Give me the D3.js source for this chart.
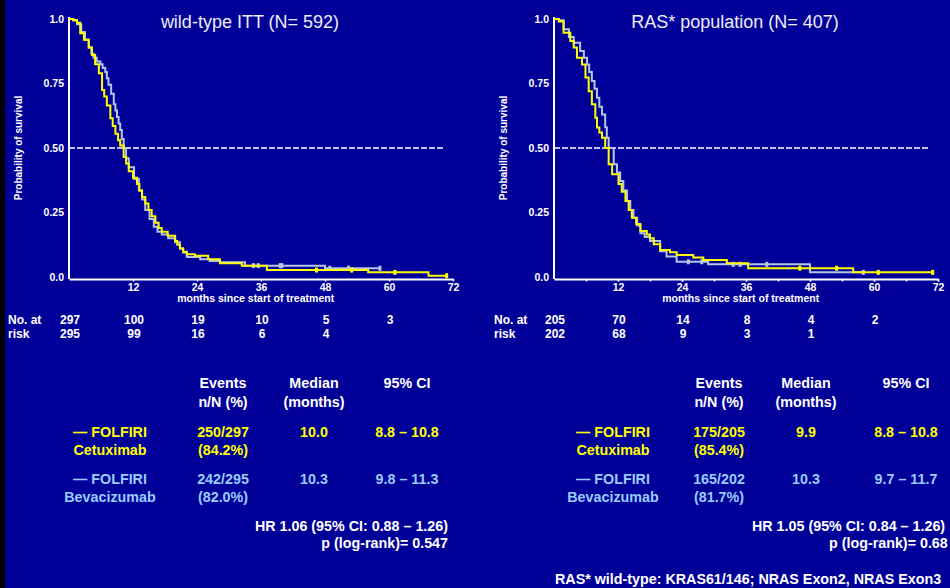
<!DOCTYPE html>
<html>
<head>
<meta charset="utf-8">
<script src="https://cdn.jsdelivr.net/npm/d3@7"></script>
<style>
body { margin: 0; background: #000099; }
svg { display: block; font-family: Arial, "Liberation Sans", sans-serif; }
</style>
</head>
<body>
<svg class="chart" width="950" height="588"></svg>
<script>
// Kaplan-Meier steps: [months, probability]
var wtCetux = [[0,1],[0.8,0.995],[1.5,0.985],[2.1,0.945],[2.8,0.92],[3.7,0.89],[4.3,0.86],[4.9,0.825],
  [5.6,0.79],[6.2,0.725],[6.6,0.70],[7.1,0.665],[7.75,0.615],[8.2,0.585],[8.7,0.555],[9.2,0.53],[9.6,0.51],
  [10.25,0.465],[10.7,0.44],[11.2,0.41],[12.0,0.385],[12.75,0.36],[13.2,0.335],[13.7,0.31],[14.3,0.285],
  [14.9,0.26],[15.5,0.235],[16.2,0.21],[16.8,0.19],[17.4,0.175],[18.5,0.16],[19.9,0.14],[20.3,0.125],
  [20.8,0.11],[21.4,0.098],[22.1,0.088],[23.6,0.082],[26.1,0.069],[28.3,0.053],[32.4,0.044],[37.1,0.027],
  [56.1,0.018],[67.4,0.005],[71.1,0.005]];
var wtBev = [[0,1],[0.8,0.995],[1.5,0.98],[2.3,0.95],[3.0,0.92],[3.7,0.89],[4.2,0.865],[4.6,0.85],[5.2,0.835],
  [5.9,0.825],[6.3,0.81],[6.8,0.795],[7.1,0.77],[7.4,0.745],[7.9,0.71],[8.4,0.67],[8.7,0.645],[9.0,0.62],
  [9.3,0.595],[9.6,0.57],[9.9,0.535],[10.25,0.50],[10.7,0.46],[11.2,0.425],[12.2,0.38],[13.1,0.335],
  [13.7,0.30],[14.3,0.26],[15.1,0.225],[15.9,0.195],[16.6,0.175],[17.4,0.165],[18.6,0.15],[19.9,0.135],
  [20.8,0.11],[21.4,0.095],[22.1,0.078],[24.6,0.069],[26.4,0.062],[28.3,0.057],[33.0,0.044],[48.0,0.034],
  [58.3,0.034]];
var rasCetux = [[0,1],[0.9,0.99],[1.8,0.947],[3.06,0.915],[3.7,0.89],[4.3,0.85],[5.25,0.824],[5.9,0.773],
  [6.5,0.72],[7.1,0.67],[7.75,0.617],[8.06,0.579],[8.5,0.56],[9.0,0.54],[9.6,0.50],[10.25,0.437],
  [10.9,0.398],[12.1,0.36],[12.7,0.33],[13.4,0.295],[14.0,0.26],[14.6,0.23],[15.4,0.205],[16.2,0.178],
  [17.4,0.165],[18.0,0.15],[18.7,0.127],[19.9,0.105],[21.75,0.096],[23.0,0.085],[26.1,0.076],[28.0,0.066],
  [32.4,0.053],[36.4,0.034],[56.1,0.018],[71.0,0.018]];
var rasBev = [[0,1],[0.9,0.995],[1.8,0.96],[2.8,0.93],[3.7,0.908],[4.9,0.876],[5.6,0.85],[6.2,0.824],
  [6.6,0.795],[7.1,0.76],[7.6,0.73],[8.06,0.695],[8.5,0.66],[9.0,0.63],[9.6,0.58],[9.9,0.54],[10.25,0.50],
  [11.2,0.437],[11.8,0.405],[12.4,0.372],[13.0,0.335],[13.7,0.295],[14.3,0.26],[14.9,0.23],[15.6,0.20],
  [16.2,0.17],[17.0,0.155],[18.0,0.14],[19.9,0.10],[21.1,0.079],[23.0,0.059],[28.9,0.049],[48.0,0.018],
  [58.0,0.018]];

// censor marks (months)
var wtCetuxCens = [46.4, 53.0, 61.1, 70.8];
var wtBevCens = [34.6, 35.5, 39.6, 39.9, 48.9, 52.4, 58.3];
var rasCetuxCens = [46.1, 53.0, 60.8, 71.0];
var rasBevCens = [25.2, 27.7, 33.6, 34.9, 39.9, 58.0];

var xTicks = [12, 24, 36, 48, 60, 72];
var yTicks = [0, 0.25, 0.5, 0.75, 1];
var yTickLabels = ["0.0", "0.25", "0.50", "0.75", "1.0"];

// numbers at risk
var riskTimes = [0, 12, 24, 36, 48, 60];
var wtRiskCetux = [297, 100, 19, 10, 5, 3];
var wtRiskBev = [295, 99, 16, 6, 4];
var rasRiskCetux = [205, 70, 14, 8, 4, 2];
var rasRiskBev = [202, 68, 9, 3, 1];

var titles = ["wild-type ITT (N= 592)", "RAS* population (N= 407)"];
var tableHead = [["Events", "n/N (%)"], ["Median", "(months)"], ["95% CI", ""]];
var cetuxArm = ["— FOLFIRI", "Cetuximab"];
var bevArm = ["— FOLFIRI", "Bevacizumab"];
var wtCetuxRow = ["250/297", "(84.2%)", "10.0", "8.8 – 10.8"];
var wtBevRow = ["242/295", "(82.0%)", "10.3", "9.8 – 11.3"];
var rasCetuxRow = ["175/205", "(85.4%)", "9.9", "8.8 – 10.8"];
var rasBevRow = ["165/202", "(81.7%)", "10.3", "9.7 – 11.7"];
var wtStats = ["HR 1.06 (95% CI: 0.88 – 1.26)", "p (log-rank)= 0.547"];
var rasStats = ["HR 1.05 (95% CI: 0.84 – 1.26)", "p (log-rank)= 0.68"];
var footnote = "RAS* wild-type: KRAS61/146; NRAS Exon2, NRAS Exon3";

var yellow = "#ffff00", grey = "#b4c6e6", lightBlue = "#99ccff";

var svg = d3.select("svg.chart");
svg.append("rect").attr("width", 950).attr("height", 588).attr("fill", "#000099");
svg.append("rect").attr("width", 5).attr("height", 588).attr("fill", "#000000");

var panels = [
  {x0: 69, title: titles[0], cetux: wtCetux, bev: wtBev, cetuxCens: wtCetuxCens, bevCens: wtBevCens,
   riskC: wtRiskCetux, riskB: wtRiskBev, rowC: wtCetuxRow, rowB: wtBevRow, stats: wtStats,
   minor: false, riskX: 8, cols: [110, 223, 314, 407], statX: 448, statAnchor: "end"},
  {x0: 554, title: titles[1], cetux: rasCetux, bev: rasBev, cetuxCens: rasCetuxCens, bevCens: rasBevCens,
   riskC: rasRiskCetux, riskB: rasRiskBev, rowC: rasCetuxRow, rowB: rasBevRow, stats: rasStats,
   minor: true, riskX: 494, cols: [613, 719, 806, 906], statX: [752, 829], statAnchor: "start"}
];

var axisY = 279;

function survAt(data, t) {
  var i = d3.bisector(function(d) { return d[0]; }).right(data, t) - 1;
  return data[Math.max(0, i)][1];
}

panels.forEach(function(p) {
  var x = d3.scaleLinear().domain([0, 72]).range([p.x0, p.x0 + 384]);
  var y = d3.scaleLinear().domain([0, 1]).range([277, 19]);
  var g = svg.append("g");

  // title
  g.append("text").attr("x", x(36) - 11).attr("y", 28).attr("text-anchor", "middle")
    .attr("fill", "#eeeef4").style("font-size", "18px").text(p.title);

  // x axis
  if (p.minor) {
    g.append("g").attr("transform", "translate(0," + axisY + ")")
      .call(d3.axisBottom(x).tickValues(d3.range(6, 73, 6)).tickSize(2.5).tickFormat(""))
      .call(function(a) { a.select(".domain").remove(); a.selectAll("line").attr("stroke", "#fff").attr("stroke-width", 1.5); });
  }
  var xa = g.append("g").attr("transform", "translate(0," + axisY + ")")
    .call(d3.axisBottom(x).tickValues(xTicks).tickSize(2.5).tickSizeOuter(0).tickPadding(2));
  xa.select(".domain").attr("stroke", "#fff").attr("stroke-width", 2);
  xa.selectAll("line").attr("stroke", "#fff").attr("stroke-width", 1.5);
  xa.selectAll("text").attr("fill", "#fff").style("font-size", "10.5px").style("font-weight", "bold")
    .attr("font-family", "Arial, 'Liberation Sans', sans-serif");
  g.append("text").attr("x", x(35)).attr("y", 302).attr("text-anchor", "middle").attr("fill", "#fff")
    .style("font-size", "10.5px").style("font-weight", "bold").text("months since start of treatment");

  // y axis
  var ya = g.append("g").attr("transform", "translate(" + x(0) + ",0)")
    .call(d3.axisLeft(y).tickValues(yTicks).tickSize(0).tickPadding(5)
      .tickFormat(function(d, i) { return yTickLabels[i]; }));
  ya.select(".domain").remove();
  ya.selectAll("text").attr("fill", "#fff").style("font-size", "10.5px").style("font-weight", "bold")
    .attr("font-family", "Arial, 'Liberation Sans', sans-serif");
  g.append("line").attr("x1", x(0)).attr("x2", x(0)).attr("y1", y(1) - 2).attr("y2", axisY)
    .attr("stroke", "#fff").attr("stroke-width", 2);
  g.append("text").attr("transform", "translate(" + (p.x0 - 47) + "," + y(0.5) + ") rotate(-90)")
    .attr("text-anchor", "middle").attr("fill", "#fff").style("font-size", "10px").style("font-weight", "bold")
    .text("Probability of survival");

  // median reference line
  g.append("line").attr("x1", x(0)).attr("x2", x(70.5)).attr("y1", y(0.5)).attr("y2", y(0.5))
    .attr("stroke", "#fff").attr("stroke-width", 1.5).attr("stroke-dasharray", "6,2");

  // curves
  var line = d3.line()
    .x(function(d) { return x(d[0]); })
    .y(function(d) { return y(d[1]); })
    .curve(d3.curveStepAfter);
  [[p.bev, p.bevCens, grey], [p.cetux, p.cetuxCens, yellow]].forEach(function(s) {
    g.append("path").datum(s[0]).attr("d", line).attr("fill", "none")
      .attr("stroke", s[2]).attr("stroke-width", 2);
    g.selectAll(null).data(s[1]).enter().append("rect")
      .attr("x", function(t) { return x(t) - 1.5; })
      .attr("y", function(t) { return y(survAt(s[0], t)) - 2.5; })
      .attr("width", 3).attr("height", 5).attr("fill", s[2]);
  });

  // numbers at risk
  g.append("text").attr("x", p.riskX).attr("y", 324).attr("fill", "#fff").style("font-size", "12px")
    .style("font-weight", "bold").text("No. at");
  g.append("text").attr("x", p.riskX).attr("y", 338).attr("fill", "#fff").style("font-size", "12px")
    .style("font-weight", "bold").text("risk");
  [[p.riskC, 324], [p.riskB, 338]].forEach(function(r) {
    g.selectAll(null).data(r[0]).enter().append("text")
      .attr("x", function(d, i) { return x(riskTimes[i]) + 1; })
      .attr("y", r[1]).attr("text-anchor", "middle").attr("fill", "#fff")
      .style("font-size", "12px").style("font-weight", "bold").text(function(d) { return d; });
  });

  // summary table
  var tt = g.append("g").style("font-size", "14.3px").style("font-weight", "bold").attr("text-anchor", "middle");
  tableHead.forEach(function(h, i) {
    tt.append("text").attr("x", p.cols[i + 1]).attr("y", 388).attr("fill", "#fff").text(h[0]);
    tt.append("text").attr("x", p.cols[i + 1]).attr("y", 407).attr("fill", "#fff").text(h[1]);
  });
  [[cetuxArm, p.rowC, yellow, 437], [bevArm, p.rowB, lightBlue, 484]].forEach(function(r) {
    tt.append("text").attr("x", p.cols[0]).attr("y", r[3]).attr("fill", r[2]).text(r[0][0]);
    tt.append("text").attr("x", p.cols[0]).attr("y", r[3] + 18).attr("fill", r[2]).text(r[0][1]);
    tt.append("text").attr("x", p.cols[1]).attr("y", r[3]).attr("fill", r[2]).text(r[1][0]);
    tt.append("text").attr("x", p.cols[1]).attr("y", r[3] + 18).attr("fill", r[2]).text(r[1][1]);
    tt.append("text").attr("x", p.cols[2]).attr("y", r[3]).attr("fill", r[2]).text(r[1][2]);
    tt.append("text").attr("x", p.cols[3]).attr("y", r[3]).attr("fill", r[2]).text(r[1][3]);
  });
  p.stats.forEach(function(s, i) {
    var sx = Array.isArray(p.statX) ? p.statX[i] : p.statX;
    tt.append("text").attr("x", sx).attr("y", 531 + i * 17).attr("text-anchor", p.statAnchor)
      .attr("fill", "#fff").text(s);
  });
});

svg.append("text").attr("x", 555).attr("y", 584).attr("fill", "#fff").style("font-size", "14.3px")
  .style("font-weight", "bold").text(footnote);
</script>
</body>
</html>
